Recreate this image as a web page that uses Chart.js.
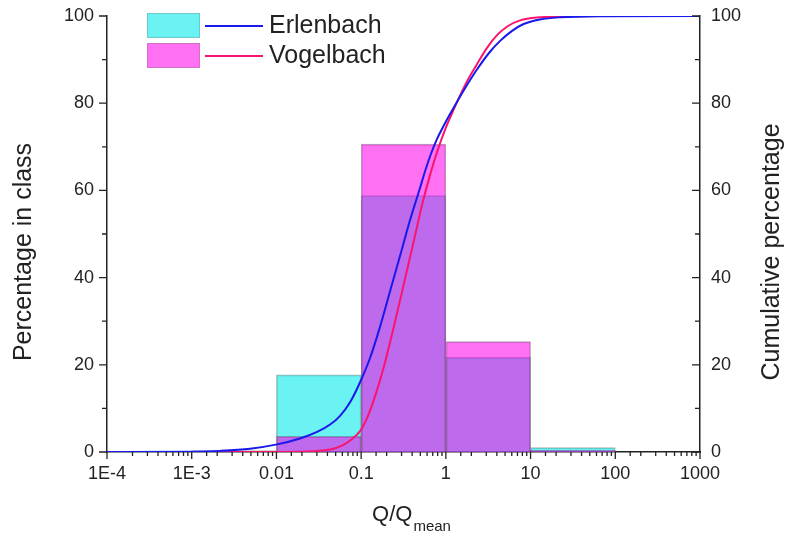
<!DOCTYPE html>
<html lang="en">
<head>
  <meta charset="UTF-8">
  <title>Q/Qmean distribution</title>
  <script src="https://cdn.jsdelivr.net/npm/chart.js"></script>
  <style>
    body { margin: 0; background: #fff; }
    #wrap { width: 788px; height: 538px; }
  </style>
</head>
<body>
  <div id="wrap"><canvas id="chart" width="788" height="538"></canvas></div>

  <script>
    // histogram classes (one per decade) and their percentages
    const binLabels = ['1E-4–1E-3', '1E-3–0.01', '0.01–0.1', '0.1–1', '1–10', '10–100', '100–1000'];
    const erlenbachPct = [0.1, 0.3, 17.7, 58.8, 21.7, 1.0, 0];
    const vogelbachPct = [0, 0.1, 3.6, 70.6, 25.3, 0.4, 0];

    // cumulative curves
    const erlenbachCumX = [1e-4, 0.001, 0.00216, 0.00488, 0.0102, 0.019, 0.0302, 0.043, 0.0564, 0.074, 0.0971,
      0.127, 0.167, 0.219, 0.288, 0.378, 0.496, 0.568, 0.668, 0.787, 0.953, 1.12, 1.69, 2.34, 3.32, 4.37,
      6.05, 8.16, 12.9, 22.3, 66, 1000];
    const erlenbachCumY = [0, 0.05, 0.25, 0.75, 1.75, 3.1, 4.6, 6.3, 8.3, 11.4, 16.0,
      21.5, 28.7, 36.8, 45.0, 53.2, 60.6, 64.4, 68.4, 71.8, 75.0, 77.5, 83.5, 87.8, 91.8, 94.3,
      96.6, 98.1, 99.2, 99.7, 99.95, 100];
    const vogelbachCumX = [1e-4, 0.011, 0.019, 0.0302, 0.043, 0.0611, 0.0781, 0.0971, 0.1205, 0.154, 0.1915,
      0.238, 0.296, 0.378, 0.445, 0.524, 0.65, 0.787, 1.005, 1.215, 1.69, 2.34, 3.06, 4.02, 5.42, 7.52,
      12.9, 22.3, 66, 1000];
    const vogelbachCumY = [0, 0, 0.07, 0.23, 0.57, 1.6, 3.0, 4.8, 8.3, 14.2, 20.6,
      28.0, 35.8, 44.7, 50.7, 56.7, 63.5, 68.8, 74.5, 78.2, 84.2, 89.0, 92.7, 95.6, 97.7, 99.0,
      99.7, 99.9, 99.98, 100];

    const xTickLabels = ['1E-4', '1E-3', '0.01', '0.1', '1', '10', '100', '1000'];
    const yTicks = [0, 20, 40, 60, 80, 100];
    const yMinorTicks = [10, 30, 50, 70, 90];

    const cyanFill = 'rgba(0,232,232,0.58)';
    const magentaFill = 'rgba(255,0,232,0.56)';
    const blueLine = 'rgb(25,25,235)';
    const redLine = 'rgb(250,20,110)';
    const font = "'Liberation Sans', Arial, sans-serif";

    const toPoints = (xs, ys) => xs.map((x, i) => ({ x, y: ys[i] }));
    const noVerticalPad = s => { s.paddingTop = 0; s.paddingBottom = 0; };

    // axis ticks, titles and the legend are drawn here
    const decor = {
      id: 'decor',
      afterDraw(chart) {
        const ctx = chart.ctx;
        const { x, y, y1 } = chart.scales;
        ctx.save();
        ctx.strokeStyle = '#222';
        ctx.lineWidth = 1.3;
        ctx.beginPath();
        x.ticks.forEach(t => {
          const lg = Math.log10(t.value);
          const major = Math.abs(lg - Math.round(lg)) < 1e-6;
          const px = x.getPixelForValue(t.value);
          ctx.moveTo(px, x.top);
          ctx.lineTo(px, x.top + (major ? 7 : 4));
        });
        yTicks.concat(yMinorTicks).forEach(v => {
          const len = yTicks.includes(v) ? 8 : 5;
          const py = y.getPixelForValue(v);
          ctx.moveTo(y.right, py);
          ctx.lineTo(y.right - len, py);
          const py1 = y1.getPixelForValue(v);
          ctx.moveTo(y1.left, py1);
          ctx.lineTo(y1.left - len, py1);
        });
        ctx.stroke();

        // axis titles
        ctx.fillStyle = '#222';
        ctx.font = '25px ' + font;
        ctx.textAlign = 'center';
        ctx.textBaseline = 'middle';
        ctx.save();
        ctx.translate(24, 252);
        ctx.rotate(-Math.PI / 2);
        ctx.fillText('Percentage in class', 0, 0);
        ctx.restore();
        ctx.save();
        ctx.translate(772, 252);
        ctx.rotate(-Math.PI / 2);
        ctx.fillText('Cumulative percentage', 0, 0);
        ctx.restore();

        ctx.textAlign = 'left';
        ctx.textBaseline = 'alphabetic';
        ctx.font = '22px ' + font;
        const q = 'Q/Q';
        const qw = ctx.measureText(q).width;
        ctx.font = '15px ' + font;
        const sw = ctx.measureText('mean').width;
        const x0 = 411 - (qw + sw) / 2;
        ctx.font = '22px ' + font;
        ctx.fillText(q, x0, 521);
        ctx.font = '15px ' + font;
        ctx.fillText('mean', x0 + qw + 1, 531);

        // legend
        const items = [
          { fill: cyanFill, line: blueLine, text: 'Erlenbach', cy: 25 },
          { fill: magentaFill, line: redLine, text: 'Vogelbach', cy: 55 }
        ];
        items.forEach(it => {
          ctx.fillStyle = it.fill;
          ctx.fillRect(147, it.cy - 12, 53, 25);
          ctx.strokeStyle = 'rgba(120,120,120,0.35)';
          ctx.lineWidth = 1;
          ctx.strokeRect(147.5, it.cy - 11.5, 52, 24);
          ctx.strokeStyle = it.line;
          ctx.lineWidth = 2;
          ctx.beginPath();
          ctx.moveTo(205, it.cy + 1);
          ctx.lineTo(263, it.cy + 1);
          ctx.stroke();
          ctx.fillStyle = '#222';
          ctx.font = '25px ' + font;
          ctx.textBaseline = 'middle';
          ctx.fillText(it.text, 269, it.cy + 1);
        });
        ctx.restore();
      }
    };

    new Chart(document.getElementById('chart'), {
      type: 'bar',
      data: {
        labels: binLabels,
        datasets: [
          {
            type: 'line', label: 'Erlenbach cumulative', data: toPoints(erlenbachCumX, erlenbachCumY),
            xAxisID: 'x', yAxisID: 'y1', borderColor: blueLine, borderWidth: 2,
            pointRadius: 0, cubicInterpolationMode: 'monotone', order: 0
          },
          {
            type: 'line', label: 'Vogelbach cumulative', data: toPoints(vogelbachCumX, vogelbachCumY),
            xAxisID: 'x', yAxisID: 'y1', borderColor: redLine, borderWidth: 2,
            pointRadius: 0, cubicInterpolationMode: 'monotone', order: 0
          },
          {
            label: 'Vogelbach', data: vogelbachPct, xAxisID: 'xc', yAxisID: 'y',
            backgroundColor: magentaFill, borderColor: 'rgba(90,60,90,0.45)', borderWidth: 1,
            grouped: false, barPercentage: 1, categoryPercentage: 1, order: 1
          },
          {
            label: 'Erlenbach', data: erlenbachPct, xAxisID: 'xc', yAxisID: 'y',
            backgroundColor: cyanFill, borderColor: 'rgba(60,90,90,0.45)', borderWidth: 1,
            grouped: false, barPercentage: 1, categoryPercentage: 1, order: 2
          }
        ]
      },
      options: {
        responsive: false,
        animation: false,
        layout: { padding: { top: 16, left: 0, right: 0, bottom: 0 } },
        plugins: { legend: { display: false }, tooltip: { enabled: false } },
        scales: {
          xc: { type: 'category', display: false, offset: true },
          x: {
            type: 'logarithmic', position: 'bottom', min: 1e-4, max: 1000,
            grid: { display: false, drawTicks: false },
            border: { display: true, color: '#222', width: 1.5 },
            afterFit: s => { s.height = 86; },
            ticks: {
              autoSkip: false, maxRotation: 0, padding: 11, color: '#222',
              font: { family: font, size: 18 },
              callback: v => {
                const lg = Math.log10(v);
                if (Math.abs(lg - Math.round(lg)) > 1e-6) return '';
                return xTickLabels[Math.round(lg) + 4];
              }
            }
          },
          y: {
            position: 'left', min: 0, max: 100,
            grid: { display: false, drawTicks: false },
            border: { display: true, color: '#222', width: 1.5 },
            afterFit: s => { s.width = 107; noVerticalPad(s); },
            ticks: { stepSize: 20, padding: 13, color: '#222', font: { family: font, size: 18 } }
          },
          y1: {
            position: 'right', min: 0, max: 100,
            grid: { display: false, drawTicks: false },
            border: { display: true, color: '#222', width: 1.5 },
            afterFit: s => { s.width = 88; noVerticalPad(s); },
            ticks: { stepSize: 20, padding: 11, color: '#222', font: { family: font, size: 18 } }
          }
        }
      },
      plugins: [decor]
    });
  </script>
</body>
</html>
